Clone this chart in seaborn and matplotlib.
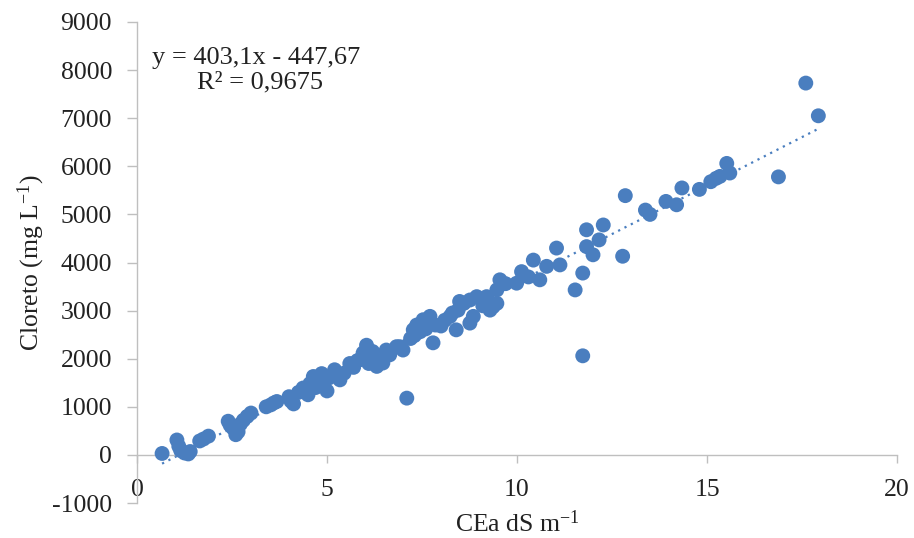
import matplotlib
matplotlib.use("Agg")
import matplotlib.pyplot as plt
import seaborn as sns
import numpy as np
import pandas as pd

# Electrical conductivity (dS/m) vs chloride concentration (mg/L)
cea = [0.66, 1.05, 1.10, 1.15, 1.25, 1.35, 1.40, 1.65, 1.75, 1.88,
       2.40, 2.45, 2.52, 2.60, 2.66, 2.72, 2.80, 2.90, 3.00,
       3.40, 3.52, 3.60, 3.68, 4.00, 4.05, 4.12, 4.25, 4.37, 4.50, 4.55,
       4.64, 4.70, 4.80, 4.86, 4.90, 5.00, 5.05, 5.20, 5.34, 5.45,
       5.60, 5.70, 5.80, 5.87, 5.95, 6.04, 6.10, 6.13, 6.20, 6.31,
       6.40, 6.47, 6.56, 6.65, 6.83, 6.91, 7.00, 7.10, 7.20, 7.27,
       7.30, 7.36, 7.45, 7.53, 7.60, 7.71, 7.79, 7.85, 8.00, 8.10,
       8.24, 8.30, 8.40, 8.45, 8.49, 8.60, 8.76, 8.76, 8.85, 8.94,
       9.10, 9.20, 9.29, 9.37, 9.47, 9.47, 9.55, 9.70, 9.99, 10.12,
       10.30, 10.43, 10.60, 10.78, 11.04, 11.13, 11.53, 11.73, 11.73, 11.83,
       11.83, 12.00, 12.16, 12.27, 12.78, 12.85, 13.38, 13.50, 13.92, 14.20,
       14.34, 14.80, 15.10, 15.24, 15.34, 15.52, 15.60, 16.88, 17.60, 17.93]
cloreto = [30, 310, 180, 90, 40, 20, 70, 290, 330, 390,
           700, 620, 560, 420, 480, 640, 720, 800, 870,
           1000, 1040, 1080, 1110, 1210, 1120, 1060, 1300, 1390, 1250, 1480,
           1630, 1400, 1550, 1690, 1450, 1330, 1600, 1770, 1560, 1700,
           1900, 1820, 1960, 1980, 2120, 2280, 1900, 2040, 2150, 1840,
           1960, 1910, 2180, 2080, 2250, 2250, 2180, 1180, 2420, 2600,
           2480, 2700, 2560, 2810, 2620, 2880, 2330, 2700, 2680, 2800,
           2880, 2950, 2600, 3010, 3190, 3150, 3220, 2740, 2880, 3290,
           3100, 3290, 3010, 3080, 3150, 3430, 3640, 3560, 3570, 3810,
           3700, 4050, 3640, 3920, 4300, 3950, 3430, 3780, 2060, 4680,
           4330, 4160, 4470, 4780, 4130, 5390, 5090, 5000, 5270, 5200,
           5550, 5520, 5680, 5750, 5790, 6060, 5860, 5780, 7730, 7050]

# Linear trend reported on the chart
slope = 403.1
intercept = -447.67
r2_text = "0,9675"

x_ticks = [0, 5, 10, 15, 20]
y_ticks = [-1000, 0, 1000, 2000, 3000, 4000, 5000, 6000, 7000, 8000, 9000]

df = pd.DataFrame({"CEa": cea, "Cloreto": cloreto})

sns.set_theme(style="white")
plt.rcParams["font.family"] = ["Liberation Serif", "DejaVu Serif"]
plt.rcParams["mathtext.fontset"] = "custom"
plt.rcParams["mathtext.rm"] = "Liberation Serif"
plt.rcParams["mathtext.it"] = "Liberation Serif:italic"

W, H = 914, 538
fig = plt.figure(figsize=(W / 100, H / 100), dpi=100)
ax = fig.add_axes([137 / W, 1 - 503 / H, (897 - 137) / W, (503 - 22) / H])

point_color = "#4A7EBF"
sns.scatterplot(data=df, x="CEa", y="Cloreto", ax=ax, s=115,
                color=point_color, edgecolor="none", linewidth=0, zorder=3)

xs = np.array([min(cea), max(cea)])
ax.plot(xs, slope * xs + intercept, linestyle=(0, (1, 2.2)),
        color="#4A7EBF", linewidth=1.6, zorder=2)

ax.set_xlim(0, 20)
ax.set_ylim(-1000, 9000)
ax.set_xticks(x_ticks)
ax.set_yticks(y_ticks)
ax.set_xticklabels([str(v) for v in x_ticks])
ax.set_yticklabels([str(v) for v in y_ticks])

spine_color = "#BFBFBF"
for side in ["top", "right"]:
    ax.spines[side].set_visible(False)
ax.spines["left"].set_color(spine_color)
ax.spines["bottom"].set_color(spine_color)
ax.spines["left"].set_linewidth(1.0)
ax.spines["bottom"].set_linewidth(1.0)
ax.spines["bottom"].set_position(("data", 0))

text_color = "#222222"
ax.tick_params(axis="y", direction="out", length=7, width=1, color=spine_color,
               labelsize=18.5, labelcolor=text_color, pad=11, left=True)
ax.tick_params(axis="x", direction="out", length=6, width=1, color=spine_color,
               labelsize=18.5, labelcolor=text_color, pad=11, bottom=True)

ax.set_xlabel("CEa dS m$^{\\mathrm{-1}}$", fontsize=18.5, color=text_color, va="center")
ax.set_ylabel("Cloreto (mg L$^{\\mathrm{-1}}$)", fontsize=18.5, color=text_color, va="center")
ax.xaxis.set_label_coords(0.5, -0.042)
ax.yaxis.set_label_coords(-0.139, 0.5)

ax.text(0.0197, 0.925, "y = 403,1x - 447,67", transform=ax.transAxes,
        fontsize=19, color=text_color, ha="left", va="center")
ax.text(0.162, 0.875, "R\u00b2 = " + r2_text, transform=ax.transAxes,
        fontsize=19, color=text_color, ha="center", va="center")

ax.grid(False)
fig.savefig("out.png", dpi=100, facecolor="white")
